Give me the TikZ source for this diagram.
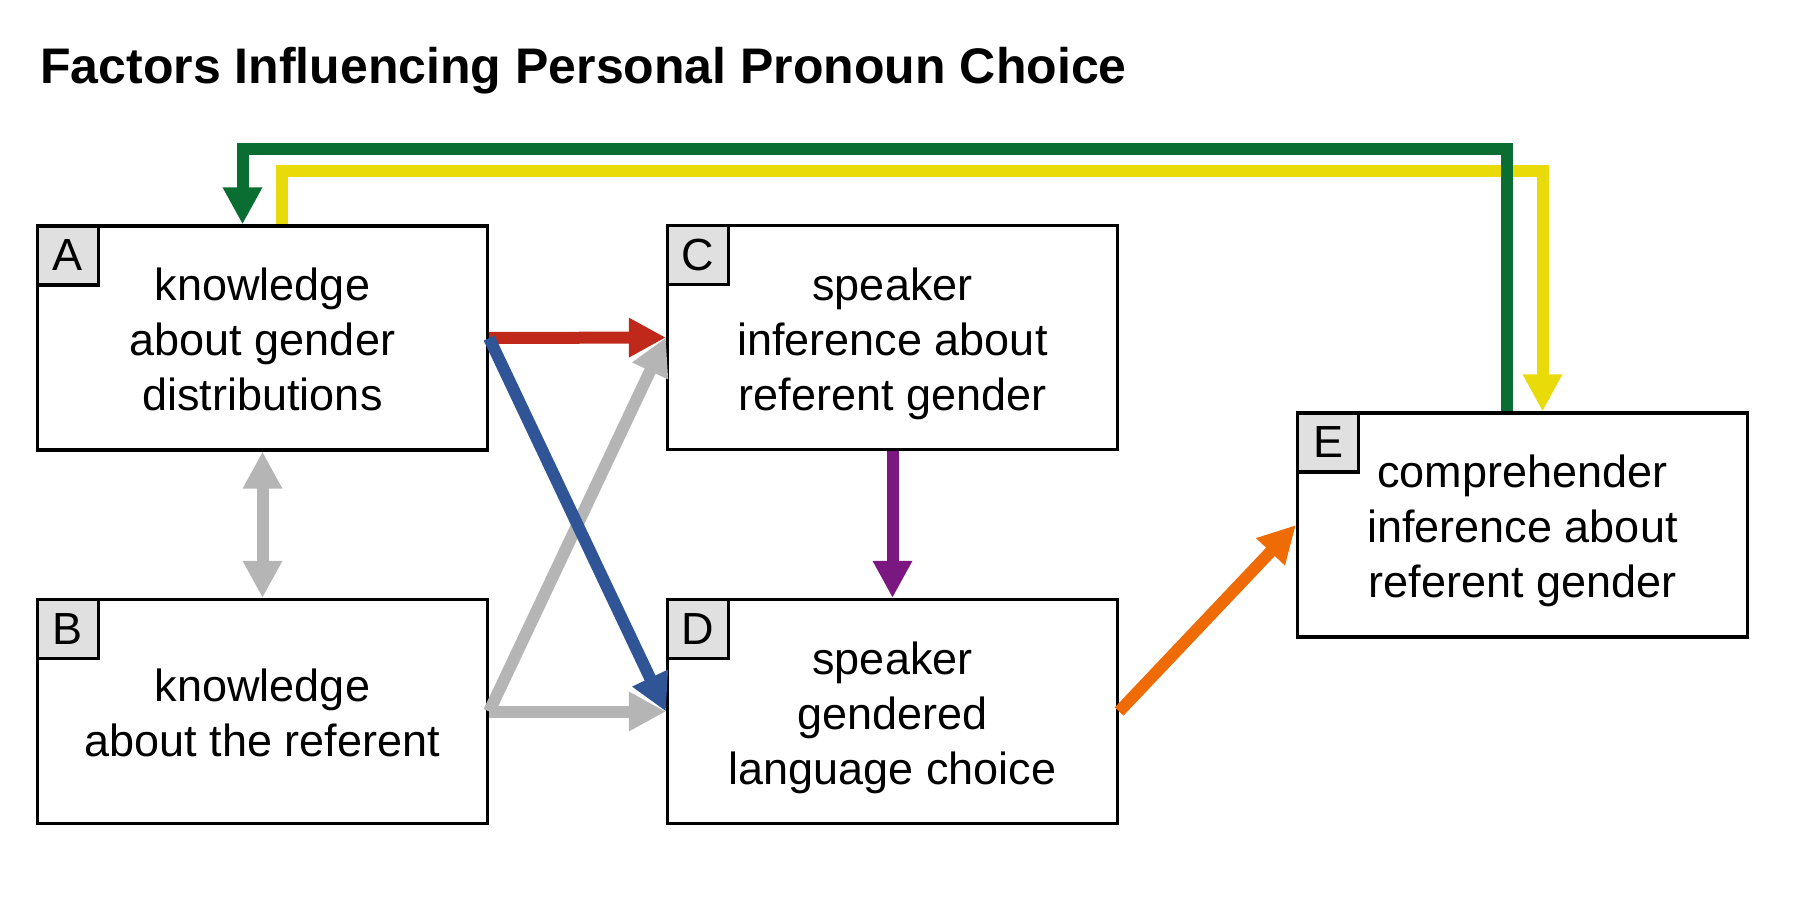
\documentclass[tikz,border=0pt]{standalone}
\usepackage{fontspec}
\setmainfont{Liberation Sans}
\usetikzlibrary{arrows.meta,calc}
\definecolor{cred}{RGB}{192,41,26}
\definecolor{cblue}{RGB}{47,85,151}
\definecolor{cgray}{RGB}{181,181,181}
\definecolor{cpurple}{RGB}{123,23,128}
\definecolor{corange}{RGB}{238,107,6}
\definecolor{cgreen}{RGB}{10,110,51}
\definecolor{cyellow}{RGB}{233,219,10}
\definecolor{clabel}{RGB}{224,224,224}
\newcommand{\ls}{\rule[-5pt]{0pt}{27.5pt}}
\tikzset{
  box/.style={draw=black, line width=1.6pt, fill=white, minimum width=225pt, minimum height=112pt, inner sep=0pt, align=center, font=\fontsize{22.5}{27.5}\selectfont},
  tag/.style={draw=black, line width=1.6pt, fill=clabel, minimum width=30.5pt, minimum height=29.5pt, inner sep=0pt, anchor=north west, font=\fontsize{22.5}{27.5}\selectfont},
  conn/.style={line width=6pt, -{Triangle[length=18.5pt,width=18.5pt]}},
  bidir/.style={line width=6pt, {Triangle[length=18.5pt,width=18.5pt]}-{Triangle[length=18.5pt,width=18.5pt]}},
  titlestyle/.style={anchor=base west, inner sep=0pt, font=\fontsize{25}{30}\selectfont\bfseries}
}
\begin{document}
\begin{tikzpicture}[x=0.5pt,y=-0.5pt]
\useasboundingbox (0,0) rectangle (1800,900);
\node[titlestyle] (title) at (40,83) {Factors Influencing Personal Pronoun Choice};

\node[box] (A) at (262.5,338) {\ls knowledge\\\ls about gender\\\ls distributions};
\node[box] (B) at (262.5,711.5) {\ls knowledge\\\ls about the referent};
\node[box] (C) at (892.5,337.5) {\ls speaker\\\ls inference about\\\ls referent gender};
\node[box] (D) at (892.5,711.5) {\ls speaker\\\ls gendered\\\ls language choice};
\node[box] (E) at (1522.5,525) {\ls comprehender\\\ls inference about\\\ls referent gender};

\node[tag] (tA) at (A.north west) {A};
\node[tag] (tB) at (B.north west) {B};
\node[tag] (tC) at (C.north west) {C};
\node[tag] (tD) at (D.north west) {D};
\node[tag] (tE) at (E.north west) {E};

% gray connectors
\draw[conn, cgray] (B.east) -- (C.west);
\draw[conn, cgray] (B.east) -- (D.west);
\draw[bidir, cgray] (A.south) -- (B.north);
% colored connectors
\draw[conn, cred] (A.east) -- (C.west);
\draw[conn, cblue] (A.east) -- (D.west);
\draw[conn, cpurple] (C.south) -- (D.north);
\draw[conn, corange] (D.east) -- (E.west);

% feedback loops
\coordinate (Ay) at ([xshift=9.5pt]A.north);
\coordinate (Ey) at ([xshift=10pt]E.north);
\coordinate (ytop) at (0,171);
\coordinate (Ag) at ([xshift=-10pt]A.north);
\coordinate (Eg) at ([xshift=-8pt]E.north);
\coordinate (gtop) at (0,149);
\draw[conn, cyellow] (Ay) -- (Ay |- ytop) -- (Ey |- ytop) -- (Ey);
\draw[conn, cgreen] (Eg) -- (Eg |- gtop) -- (Ag |- gtop) -- (Ag);
\end{tikzpicture}
\end{document}
